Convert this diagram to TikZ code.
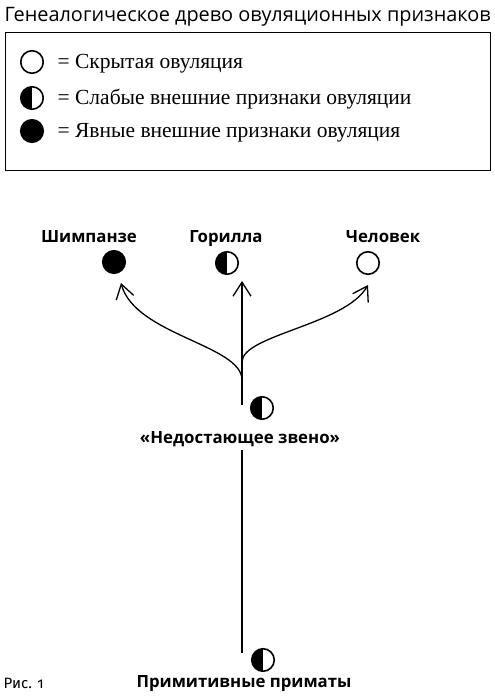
\documentclass[tikz,border=0pt]{standalone}
\usepackage{fontspec}
\setmainfont{Liberation Serif}
\setsansfont{Open Sans}
\newfontfamily\figfont[Numbers=OldStyle]{Fira Sans}
\usetikzlibrary{arrows.meta}
\tikzset{
  dot/.style={circle,draw,line width=1.6pt,minimum size=22.5pt,inner sep=0pt},
  open/.style={dot,fill=white},
  full/.style={dot,fill=black},
  half/.style={dot,path picture={\fill[black] (path picture bounding box.south west) rectangle (path picture bounding box.north);}},
  lbl/.style={font=\sffamily\bfseries\fontsize{16.8}{18}\selectfont,anchor=base,inner sep=0pt},
  leg/.style={font=\fontsize{21.5}{24}\selectfont,anchor=base west,inner sep=0pt}
}
\begin{document}
\begin{tikzpicture}[x=1pt,y=-1pt,>={Straight Barb[length=14pt,width=18pt]},line width=1.3pt]
\useasboundingbox (0,0) rectangle (495,699);
% Заголовок и легенда
\node[anchor=base west,inner sep=0pt,font=\sffamily\fontsize{19.9}{23}\selectfont] (title) at (4,21) {Генеалогическое древо овуляционных признаков};
\draw[line width=0.8pt] (5,32) rectangle (490,170);
\node[open] (l1) at (32,62) {};
\node[half] (l2) at (32,98) {};
\node[full] (l3) at (32,131) {};
\node[leg] (t1) at (57,68.5) {= Скрытая овуляция};
\node[leg] (t2) at (57,104.5) {= Слабые внешние признаки овуляции};
\node[leg] (t3) at (57,137.5) {= Явные внешние признаки овуляция};
% Вершины дерева
\node[lbl] (shimp) at (89,242) {Шимпанзе};
\node[lbl] (gor) at (226,242) {Горилла};
\node[lbl] (chel) at (383,242) {Человек};
\node[full] (shd) at (114,262) {};
\node[half] (god) at (227,263) {};
\node[open] (chd) at (368,263) {};
\node[half] (zvd) at (262,408) {};
\node[lbl] (zveno) at (240,443) {«Недостающее звено»};
\node[half] (prd) at (263,660) {};
\node[lbl] (prim) at (244,687) {Примитивные приматы};
\node[anchor=base west,inner sep=0pt,font=\figfont\fontsize{15}{17}\selectfont] (fig) at (3,688) {Рис. 1};
% Ствол и ветви
\coordinate (root) at (242,653);
\coordinate (low) at (242,450);
\coordinate (fork) at (242,405);
\coordinate (sl) at (242,380);
\coordinate (sr) at (242,362);
\coordinate (tipS) at (121,283);
\coordinate (tipG) at (242,281);
\coordinate (tipH) at (368,285);
\draw (root) -- (low);
\draw[->] (fork) -- (tipG);
\draw[->] (sl) .. controls (242,345) and (135,335) .. (tipS);
\draw[->] (sr) .. controls (242,335) and (345,325) .. (tipH);
\end{tikzpicture}
\end{document}
